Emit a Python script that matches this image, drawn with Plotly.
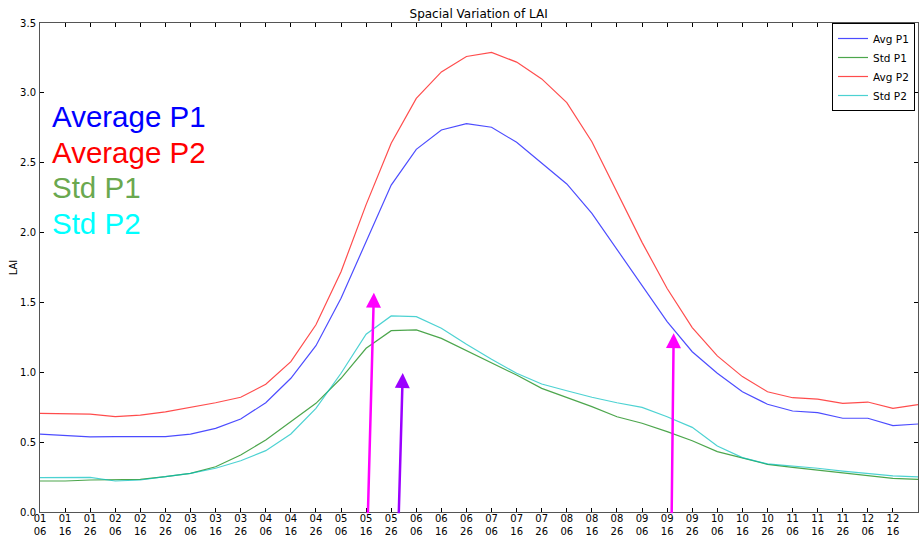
import plotly.graph_objects as go

months = ["01","02","03","04","05","06","07","08","09","10","11","12"]
days = ["06","16","26"]
tick_labels = [f"{m}<br>{d}" for m in months for d in days]

avg_p1 = [0.558,0.546,0.538,0.539,0.539,0.539,0.558,0.599,0.666,0.782,0.957,1.19,
          1.53,1.94,2.34,2.596,2.734,2.78,2.754,2.646,2.50,2.348,2.138,1.88,
          1.613,1.362,1.147,0.993,0.861,0.771,0.723,0.711,0.671,0.671,0.618,0.63]
std_p1 = [0.222,0.222,0.229,0.229,0.234,0.253,0.277,0.324,0.408,0.515,0.646,0.778,
          0.957,1.172,1.298,1.303,1.243,1.155,1.069,0.98,0.885,0.821,0.754,0.682,
          0.635,0.575,0.51,0.432,0.384,0.341,0.32,0.301,0.277,0.263,0.241,0.234]
avg_p2 = [0.706,0.701,0.70,0.682,0.694,0.716,0.749,0.782,0.821,0.914,1.076,1.34,
          1.72,2.20,2.64,2.96,3.15,3.26,3.29,3.22,3.10,2.93,2.65,2.29,
          1.93,1.60,1.32,1.117,0.969,0.861,0.818,0.808,0.778,0.787,0.742,0.768]
std_p2 = [0.246,0.246,0.248,0.222,0.229,0.253,0.277,0.313,0.367,0.439,0.558,0.742,
          0.993,1.272,1.403,1.398,1.315,1.20,1.093,0.993,0.916,0.868,0.821,0.782,
          0.749,0.682,0.606,0.472,0.389,0.344,0.329,0.313,0.293,0.274,0.258,0.251]

x = list(range(len(tick_labels)))

series = [
    ("Avg P1", avg_p1, "rgba(0,0,255,0.7)"),
    ("Std P1", std_p1, "rgba(0,128,0,0.7)"),
    ("Avg P2", avg_p2, "rgba(255,0,0,0.7)"),
    ("Std P2", std_p2, "rgba(0,191,191,0.7)"),
]

fig = go.Figure()
for name, vals, col in series:
    fig.add_trace(go.Scatter(x=x, y=vals, name=name, mode="lines",
                             line=dict(color=col, width=1.2)))

# colored text labels
labels = [("Average P1", "#0000ff", 0.808), ("Average P2", "#ff0000", 0.736),
          ("Std P1", "#6aa84f", 0.663), ("Std P2", "#00ffff", 0.591)]
for txt, col, yv in labels:
    fig.add_annotation(x=0.0115, y=yv, xref="paper", yref="paper", text=txt,
                       showarrow=False, xanchor="left", yanchor="middle",
                       font=dict(family="Liberation Sans, Arial", size=29.5, color=col))

# arrows (tail at axis bottom, head at given point)
arrows = [(13.07, 13.31, 1.57, "#ff00ff"), (14.3, 14.46, 0.995, "#9b00ff"),
          (25.18, 25.26, 1.28, "#ff00ff")]
for tx, hx, hy, col in arrows:
    fig.add_annotation(x=hx, y=hy, ax=tx, ay=-0.02, xref="x", yref="y",
                       axref="x", ayref="y", text="", showarrow=True,
                       arrowhead=2, arrowsize=1.2, arrowwidth=2.5, arrowcolor=col,
                       standoff=0)

fig.update_layout(
    width=924, height=536,
    margin=dict(l=40, r=6, t=23, b=24, autoexpand=False),
    paper_bgcolor="white", plot_bgcolor="white",
    font=dict(family="DejaVu Sans", size=10, color="black"),
    title=dict(text="Spacial Variation of LAI", x=0.518, xanchor="center",
               y=0.975, yanchor="middle", font=dict(size=12)),
    showlegend=True,
    legend=dict(x=0.9966, y=1.0, xanchor="right", yanchor="top",
                bordercolor="black", borderwidth=1, bgcolor="white",
                font=dict(size=10.5), tracegroupgap=0, itemwidth=30),
)
fig.update_xaxes(range=[0, 35], tickmode="array", tickvals=x, ticktext=tick_labels,
                 ticks="inside", ticklen=4, tickcolor="black", showgrid=False,
                 zeroline=False, showline=True, linecolor="#555", linewidth=1,
                 mirror="allticks", tickfont=dict(size=10), automargin=False,
                 ticklabelstandoff=-3)
fig.update_yaxes(range=[0, 3.5], tickmode="array",
                 tickvals=[0, 0.5, 1.0, 1.5, 2.0, 2.5, 3.0, 3.5],
                 ticktext=["0.0", "0.5", "1.0", "1.5", "2.0", "2.5", "3.0", "3.5"],
                 ticks="inside", ticklen=4, tickcolor="black", showgrid=False,
                 zeroline=False, showline=True, linecolor="#555", linewidth=1,
                 mirror="allticks", title=dict(text="LAI", standoff=0, font=dict(size=10)),
                 tickfont=dict(size=10), automargin=False, ticklabelstandoff=1)

fig.write_html("out.html")
